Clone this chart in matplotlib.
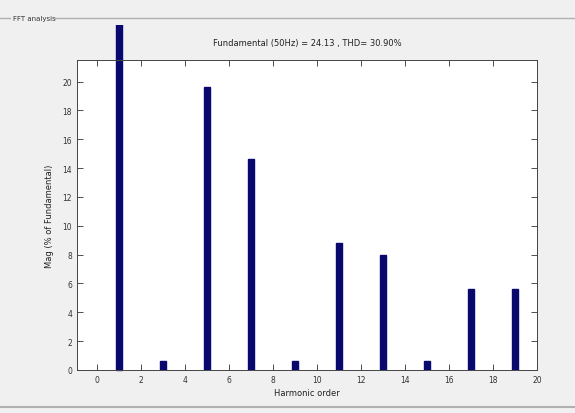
import matplotlib.pyplot as plt
from matplotlib.lines import Line2D
from matplotlib.transforms import Bbox

# harmonic spectrum, % of fundamental
orders = [1, 3, 5, 7, 9, 11, 13, 15, 17, 19]
mags = [100, 0.6, 19.6, 14.6, 0.6, 8.8, 7.95, 0.6, 5.6, 5.6]
xticks = list(range(0, 21, 2))
yticks = list(range(0, 21, 2))
title = 'Fundamental (50Hz) = 24.13 , THD= 30.90%'

W, H = 575, 414
fig = plt.figure(figsize=(W / 100, H / 100), dpi=100, facecolor='#f0f0f0')
ax = fig.add_axes([77 / W, 1 - 371 / H, 460 / W, 310 / H])
ax.set_facecolor('white')

bars = ax.bar(orders, mags, width=0.28, color='#08086e', edgecolor='#08086e')
# the fundamental bar runs past the axes up to the panel edge
bars[0].set_clip_box(Bbox([[0, 0], [W, H - 26]]))

ax.set_xlim(-0.9, 20)
ax.set_ylim(0, 21.5)
ax.set_xticks(xticks)
ax.set_yticks(yticks)
ax.tick_params(direction='in', top=True, right=True, labelsize=5.5, length=4,
               width=0.6, colors='#333333')
for s in ax.spines.values():
    s.set_linewidth(0.7)
    s.set_color('#444444')

ax.set_title(title, fontsize=6, color='#222222', pad=11)
ax.set_xlabel('Harmonic order', fontsize=6, color='#222222', labelpad=3)
ax.set_ylabel('Mag (% of Fundamental)', fontsize=6, color='#222222', labelpad=6)

# panel frame
fig.add_artist(Line2D([0, 10 / W], [1 - 19 / H] * 2, color='#b0b0b0', lw=1))
fig.add_artist(Line2D([55 / W, 1], [1 - 19 / H] * 2, color='#b0b0b0', lw=1))
fig.add_artist(Line2D([0, 1], [1 - 408 / H] * 2, color='#b0b0b0', lw=1.5))
fig.text(13 / W, 1 - 19 / H, 'FFT analysis', fontsize=5, color='#333333',
         va='center', ha='left')

fig.savefig('out.png', dpi=100, facecolor=fig.get_facecolor())
